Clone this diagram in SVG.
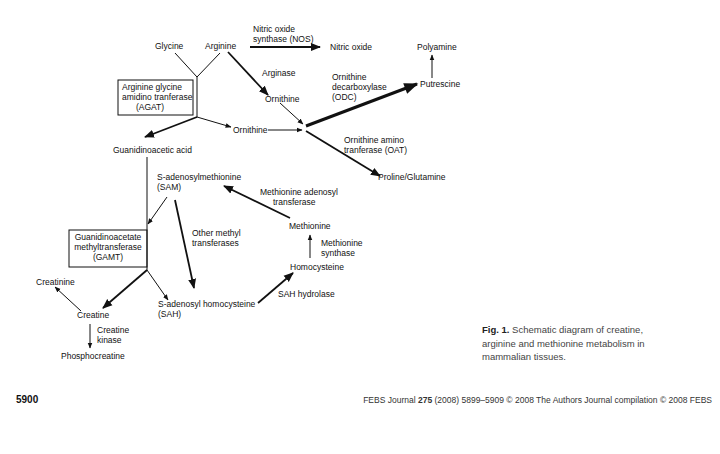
<svg xmlns="http://www.w3.org/2000/svg" width="720" height="454" viewBox="0 0 720 454">
<style>
text{font-family:"Liberation Sans",Arial,sans-serif;font-size:8.5px;fill:#111}
.c{text-anchor:middle}
.cap{font-size:9.5px;fill:#444}
.ft{font-size:8.5px;fill:#333}
.l{stroke:#111;fill:none;stroke-width:1}
.t{stroke:#111;fill:none;stroke-width:1.8}
.tt{stroke:#111;fill:none;stroke-width:3}
</style>
<defs>
<marker id="a" viewBox="0 0 10 10" refX="9" refY="5" markerWidth="6" markerHeight="6" markerUnits="userSpaceOnUse" orient="auto"><path d="M0,1L10,5L0,9z" fill="#111"/></marker>
<marker id="b" viewBox="0 0 10 10" refX="9" refY="5" markerWidth="10" markerHeight="10" markerUnits="userSpaceOnUse" orient="auto"><path d="M0,1L10,5L0,9z" fill="#111"/></marker>
<marker id="c" viewBox="0 0 10 10" refX="9" refY="5" markerWidth="18" markerHeight="14" markerUnits="userSpaceOnUse" orient="auto"><path d="M0,1L10,5L0,9z" fill="#111"/></marker>
</defs>
<rect width="720" height="454" fill="#fff"/>
<g id="connectors">
<path class="l" d="M175,53L197,77L220,53M197,77V117"/>
<path class="t" d="M250,47H320" marker-end="url(#b)"/>
<path class="l" d="M432,78V55" marker-end="url(#a)"/>
<path class="t" d="M228,52L268,95" marker-end="url(#b)"/>
<path class="l" d="M280,103L303,124" marker-end="url(#a)"/>
<path class="t" d="M197,117L145,137" marker-end="url(#b)"/>
<path class="l" d="M197,117L231,127" marker-end="url(#a)"/>
<path class="l" d="M268,130H302" marker-end="url(#a)"/>
<path class="tt" d="M306,126L417,84" marker-end="url(#c)"/>
<path class="t" d="M306,131L380,176" marker-end="url(#b)"/>
<path class="l" d="M147,157V270"/>
<path class="l" d="M167,197L148,224" marker-end="url(#a)"/>
<path class="t" d="M175,200L194,288" marker-end="url(#b)"/>
<path class="t" d="M147,270L103,308" marker-end="url(#b)"/>
<path class="l" d="M147,270L168,300" marker-end="url(#a)"/>
<path class="l" d="M81,311L55,287" marker-end="url(#a)"/>
<path class="l" d="M90,324V348" marker-end="url(#a)"/>
<path class="t" d="M258,303L293,273" marker-end="url(#b)"/>
<path class="l" d="M310,258V235" marker-end="url(#a)"/>
<path class="t" d="M290,218L224,186" marker-end="url(#b)"/>
</g>
<g id="glycine"><text x="155" y="49">Glycine</text></g>
<g id="arginine"><text x="205" y="49">Arginine</text></g>
<g id="nos"><text x="253" y="32">Nitric oxide</text><text x="253" y="42">synthase (NOS)</text></g>
<g id="no"><text x="330" y="50">Nitric oxide</text></g>
<g id="polyamine"><text x="417" y="50">Polyamine</text></g>
<g id="putrescine"><text x="420" y="87">Putrescine</text></g>
<g id="agat"><rect x="118" y="80" width="75" height="35" fill="none" stroke="#111"/><text x="122" y="90">Arginine glycine</text><text x="122" y="100">amidino tranferase</text><text x="150" y="110" class="c">(AGAT)</text></g>
<g id="arginase"><text x="262" y="76">Arginase</text></g>
<g id="ornithine1"><text x="265" y="102">Ornithine</text></g>
<g id="ornithine2"><text x="233" y="133">Ornithine</text></g>
<g id="odc"><text x="332" y="80">Ornithine</text><text x="332" y="90">decarboxylase</text><text x="332" y="100">(ODC)</text></g>
<g id="oat"><text x="344" y="143">Ornithine amino</text><text x="344" y="153">tranferase (OAT)</text></g>
<g id="proline"><text x="378" y="180">Proline/Glutamine</text></g>
<g id="gaa"><text x="113" y="153">Guanidinoacetic acid</text></g>
<g id="sam"><text x="157" y="180">S-adenosylmethionine</text><text x="157" y="190">(SAM)</text></g>
<g id="gamt"><rect x="69" y="230" width="78" height="37" fill="none" stroke="#111"/><text x="108" y="240" class="c">Guanidinoacetate</text><text x="108" y="250" class="c">methyltransferase</text><text x="108" y="260" class="c">(GAMT)</text></g>
<g id="oth"><text x="192" y="236">Other methyl</text><text x="192" y="246">transferases</text></g>
<g id="mat"><text x="260" y="195">Methionine adenosyl</text><text x="273" y="205">transferase</text></g>
<g id="methionine"><text x="289" y="229">Methionine</text></g>
<g id="ms"><text x="321" y="246">Methionine</text><text x="321" y="256">synthase</text></g>
<g id="hcy"><text x="290" y="270">Homocysteine</text></g>
<g id="sahh"><text x="278" y="297">SAH hydrolase</text></g>
<g id="sah"><text x="158" y="307">S-adenosyl homocysteine</text><text x="158" y="317">(SAH)</text></g>
<g id="creatinine"><text x="36" y="285">Creatinine</text></g>
<g id="creatine"><text x="77" y="318">Creatine</text></g>
<g id="ck"><text x="97" y="333">Creatine</text><text x="97" y="343">kinase</text></g>
<g id="pcr"><text x="61" y="359">Phosphocreatine</text></g>
<g id="caption"><text class="cap" x="482" y="333"><tspan font-weight="bold" fill="#222">Fig. 1.</tspan> Schematic diagram of creatine,</text><text class="cap" x="482" y="347">arginine and methionine metabolism in</text><text class="cap" x="482" y="360">mammalian tissues.</text></g>
<g id="footer"><text x="16" y="403" font-weight="bold" style="font-size:10px">5900</text><text class="ft" x="712" y="403" text-anchor="end">FEBS Journal <tspan font-weight="bold">275</tspan> (2008) 5899–5909 © 2008 The Authors Journal compilation © 2008 FEBS</text></g>
</svg>
